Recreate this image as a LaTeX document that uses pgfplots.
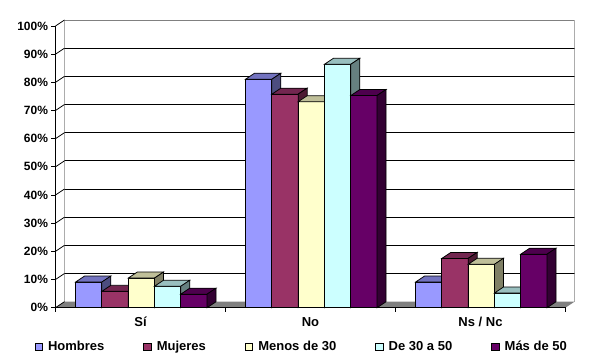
\documentclass[border=0pt]{standalone}
\usepackage{fontspec}
\setmainfont{Liberation Sans}
\usepackage{pgfplots}
\usepackage{pgfplotstable}
\pgfplotsset{compat=1.18}

\definecolor{homF}{HTML}{9999FF}\definecolor{homT}{HTML}{7373BF}\definecolor{homS}{HTML}{4D4D80}
\definecolor{mujF}{HTML}{993366}\definecolor{mujT}{HTML}{732650}\definecolor{mujS}{HTML}{4D1A33}
\definecolor{menF}{HTML}{FFFFCC}\definecolor{menT}{HTML}{BFBF99}\definecolor{menS}{HTML}{808066}
\definecolor{midF}{HTML}{CCFFFF}\definecolor{midT}{HTML}{99BFBF}\definecolor{midS}{HTML}{668080}
\definecolor{masF}{HTML}{660066}\definecolor{masT}{HTML}{4D004D}\definecolor{masS}{HTML}{330033}

\pgfplotstableread{
x  hom  muj  men  mid  mas
0  9.1  5.8  10.5 7.6  4.8
1  81.1 75.8 73.1 86.4 75.3
2  9.1  17.5 15.4 5.2  19.0
}\datatable

\newdimen\barh
\pgfdeclareplotmark{prismtop}{%
  \pgfpathmoveto{\pgfqpoint{-13.15pt}{0pt}}%
  \pgfpathlineto{\pgfqpoint{13.15pt}{0pt}}%
  \pgfpathlineto{\pgfqpoint{22.15pt}{6pt}}%
  \pgfpathlineto{\pgfqpoint{-4.15pt}{6pt}}%
  \pgfpathclose
  \pgfusepathqfillstroke
}
\pgfdeclareplotmark{prismside}{%
  \pgfmathsetlength\barh{\barval*2.817pt}%
  \pgfpathmoveto{\pgfqpoint{13.15pt}{0pt}}%
  \pgfpathlineto{\pgfqpoint{22.15pt}{6pt}}%
  \pgfpathlineto{\pgfpoint{22.15pt}{6pt-\barh}}%
  \pgfpathlineto{\pgfpoint{13.15pt}{-\barh}}%
  \pgfpathclose
  \pgfusepathqfillstroke
}

\pgfplotsset{
  front/.style 2 args={ybar, bar width=26.3pt, bar shift=#1, fill=#2, draw=black, line width=0.75pt},
  prism/.style n args={4}{forget plot, only marks, mark=#1,
     mark options={fill=#2, draw=black, line width=0.75pt},
     visualization depends on={\thisrow{#3} \as \barval}},
}

\begin{document}
\begin{tikzpicture}
\useasboundingbox (0,0) rectangle (590pt,364pt);
% back wall
\begin{axis}[at={(64.5pt,62.3pt)}, anchor=south west, scale only axis,
  x=170pt, y=2.817pt, xmin=-0.5, xmax=2.5, ymin=0, ymax=100,
  axis line style={draw=none}, xtick=\empty, ytick={10,20,...,90}, yticklabels={},
  major tick length=0pt, ymajorgrids, grid style={black, line width=0.75pt}]
\draw[gray, line width=0.75pt] (rel axis cs:0,0) -- (rel axis cs:0,1) -- (rel axis cs:1,1) -- (rel axis cs:1,0);
\end{axis}
% front
\begin{axis}[at={(55.5pt,56.3pt)}, anchor=south west, scale only axis,
  x=170pt, y=2.817pt, xmin=-0.5, xmax=2.5, ymin=0, ymax=100,
  clip=false, clip mode=individual, axis on top,
  separate axis lines, axis x line*=bottom, axis y line*=left,
  axis line style={black, line width=0.75pt},
  tick align=outside, major tick length=4pt, tick style={black, line width=0.75pt},
  ytick={0,10,...,100}, yticklabel={\pgfmathprintnumber{\tick}\%},
  /pgf/number format/assume math mode=true,
  yticklabel style={font=\bfseries\fontsize{12}{14}\selectfont},
  xtick={-0.5,0.5,1.5,2.5}, xticklabels={},
  extra x ticks={0,1,2}, extra x tick labels={Sí,No,Ns / Nc},
  extra x tick style={major tick length=0pt},
  xticklabel style={font=\bfseries\fontsize{13}{15}\selectfont, yshift=-6pt},
  legend columns=5,
  legend image code/.code={\path[draw=none, fill=none] (0pt,0pt) -- (11pt,0pt);\draw[#1, draw=black, line width=0.75pt] (0pt,-3.75pt) rectangle (7.5pt,3.75pt);},
  legend style={at={(axis description cs:0,0)}, anchor=west, xshift=-21pt, yshift=-39pt,
    draw=none, fill=none, inner sep=0pt,
    font=\bfseries\fontsize{13}{15}\selectfont,
    /tikz/every even column/.append style={column sep=37pt}},
  ]
\fill[gray] (axis cs:-0.5,0) -- (axis cs:2.5,0) -- ([shift={(9pt,6pt)}]axis cs:2.5,0) -- ([shift={(9pt,6pt)}]axis cs:-0.5,0) -- cycle;
\pgfplotsinvokeforeach{0,10,20,30,40,50,60,70,80,90,100}{\draw[black, line width=0.75pt] (axis cs:-0.5,#1) -- ++(9pt,6pt);}

\addplot[front={-51.8pt}{homF}] table[x=x, y=hom] {\datatable};
\addlegendentry{Hombres}
\addplot[prism={prismtop}{homT}{hom}{}] table[x expr=\thisrow{x}-0.30471, y=hom] {\datatable};
\addplot[prism={prismside}{homS}{hom}{}] table[x expr=\thisrow{x}-0.30471, y=hom] {\datatable};

\addplot[front={-25.5pt}{mujF}] table[x=x, y=muj] {\datatable};
\addlegendentry{Mujeres}
\addplot[prism={prismtop}{mujT}{muj}{}] table[x expr=\thisrow{x}-0.15, y=muj] {\datatable};
\addplot[prism={prismside}{mujS}{muj}{}] table[x expr=\thisrow{x}-0.15, y=muj] {\datatable};

\addplot[front={0.8pt}{menF}] table[x=x, y=men] {\datatable};
\addlegendentry{Menos de 30}
\addplot[prism={prismtop}{menT}{men}{}] table[x expr=\thisrow{x}+0.00471, y=men] {\datatable};
\addplot[prism={prismside}{menS}{men}{}] table[x expr=\thisrow{x}+0.00471, y=men] {\datatable};

\addplot[front={27.1pt}{midF}] table[x=x, y=mid] {\datatable};
\addlegendentry{De 30 a 50}
\addplot[prism={prismtop}{midT}{mid}{}] table[x expr=\thisrow{x}+0.15941, y=mid] {\datatable};
\addplot[prism={prismside}{midS}{mid}{}] table[x expr=\thisrow{x}+0.15941, y=mid] {\datatable};

\addplot[front={53.4pt}{masF}] table[x=x, y=mas] {\datatable};
\addlegendentry{Más de 50}
\addplot[prism={prismtop}{masT}{mas}{}] table[x expr=\thisrow{x}+0.31412, y=mas] {\datatable};
\addplot[prism={prismside}{masS}{mas}{}] table[x expr=\thisrow{x}+0.31412, y=mas] {\datatable};
\end{axis}
\end{tikzpicture}
\end{document}
